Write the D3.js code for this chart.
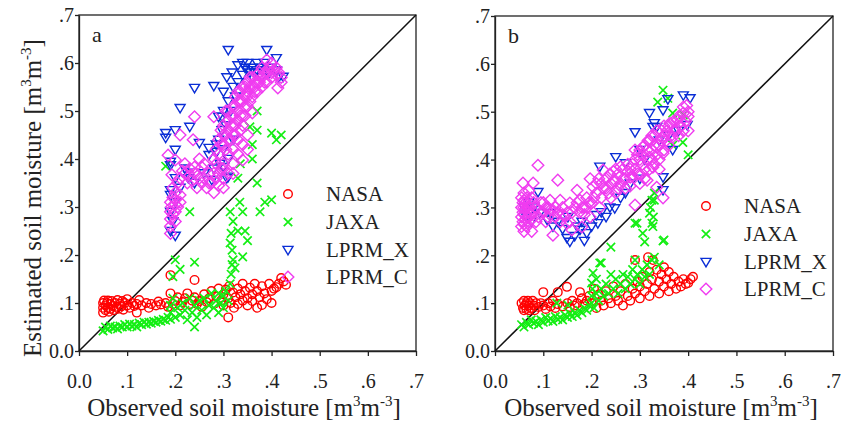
<!DOCTYPE html>
<html>
<head>
<meta charset="utf-8">
<script src="https://cdn.jsdelivr.net/npm/d3@7"></script>
<style>
  body { margin: 0; background: #fff; }
  svg, .tick text { font-family: "Liberation Serif", "Times New Roman", serif; }
  .tick text { font-size: 20px; fill: #222; }
  .domain, .tick line { stroke: #222; }
</style>
</head>
<body>
<svg id="chart" width="841" height="424"></svg>
<script>
// tick values and series names
const tickVals = [0, 0.1, 0.2, 0.3, 0.4, 0.5, 0.6, 0.7];
const seriesNames = ["NASA", "JAXA", "LPRM_X", "LPRM_C"];

// panel a  [observed, estimated]
const nasaA = [[0.05,0.10],[0.05,0.09],[0.05,0.08],[0.052,0.105],[0.055,0.095],[0.055,0.085],[0.058,0.10],[0.06,0.09],[0.06,0.105],[0.062,0.082],[0.065,0.098],[0.065,0.088],[0.068,0.104],[0.07,0.094],[0.072,0.085],[0.075,0.10],[0.078,0.092],[0.08,0.106],[0.082,0.088],[0.085,0.098],[0.088,0.093],[0.09,0.104],[0.092,0.086],[0.095,0.10],[0.10,0.095],[0.10,0.108],[0.105,0.09],[0.11,0.10],[0.115,0.094],[0.12,0.098],[0.12,0.08],[0.125,0.106],[0.13,0.095],[0.14,0.10],[0.145,0.09],[0.15,0.098],[0.16,0.095],[0.165,0.103],[0.17,0.097],[0.18,0.10],[0.185,0.092],[0.19,0.12],[0.19,0.158],[0.195,0.098],[0.20,0.104],[0.205,0.112],[0.21,0.095],[0.215,0.102],[0.22,0.11],[0.225,0.12],[0.23,0.098],[0.235,0.105],[0.24,0.148],[0.24,0.112],[0.245,0.098],[0.25,0.104],[0.255,0.092],[0.26,0.118],[0.265,0.102],[0.27,0.11],[0.275,0.125],[0.28,0.098],[0.285,0.114],[0.29,0.13],[0.295,0.105],[0.30,0.118],[0.30,0.095],[0.305,0.128],[0.31,0.07],[0.31,0.11],[0.312,0.135],[0.315,0.10],[0.32,0.122],[0.322,0.09],[0.325,0.112],[0.33,0.13],[0.33,0.098],[0.335,0.118],[0.34,0.105],[0.34,0.14],[0.345,0.125],[0.35,0.11],[0.35,0.095],[0.355,0.132],[0.36,0.118],[0.36,0.104],[0.365,0.14],[0.37,0.125],[0.37,0.09],[0.375,0.112],[0.38,0.096],[0.38,0.135],[0.385,0.12],[0.39,0.108],[0.395,0.14],[0.40,0.10],[0.40,0.125],[0.405,0.13],[0.41,0.133],[0.415,0.14],[0.42,0.152],[0.425,0.145],[0.43,0.138]];

const jaxaA = [[0.05,0.042],[0.055,0.05],[0.06,0.045],[0.065,0.052],[0.07,0.048],[0.075,0.05],[0.08,0.046],[0.085,0.052],[0.09,0.05],[0.095,0.055],[0.10,0.05],[0.105,0.056],[0.11,0.052],[0.115,0.055],[0.12,0.05],[0.125,0.058],[0.13,0.055],[0.135,0.06],[0.14,0.056],[0.145,0.06],[0.15,0.058],[0.155,0.062],[0.16,0.06],[0.165,0.064],[0.17,0.062],[0.175,0.066],[0.18,0.064],[0.185,0.07],[0.19,0.066],[0.19,0.08],[0.19,0.095],[0.195,0.11],[0.195,0.155],[0.2,0.19],[0.2,0.07],[0.205,0.09],[0.21,0.17],[0.21,0.075],[0.215,0.1],[0.22,0.085],[0.225,0.065],[0.23,0.11],[0.23,0.29],[0.235,0.08],[0.24,0.185],[0.24,0.05],[0.24,0.095],[0.245,0.07],[0.25,0.105],[0.255,0.085],[0.26,0.11],[0.265,0.075],[0.27,0.095],[0.275,0.12],[0.28,0.09],[0.285,0.105],[0.29,0.08],[0.29,0.12],[0.295,0.1],[0.3,0.115],[0.3,0.09],[0.305,0.125],[0.31,0.105],[0.18,0.385],[0.314,0.14],[0.316,0.16],[0.318,0.18],[0.32,0.19],[0.318,0.21],[0.314,0.225],[0.316,0.245],[0.32,0.27],[0.314,0.29],[0.324,0.173],[0.33,0.25],[0.334,0.31],[0.33,0.36],[0.34,0.196],[0.34,0.29],[0.345,0.25],[0.35,0.23],[0.37,0.35],[0.376,0.29],[0.386,0.31],[0.40,0.315],[0.335,0.39],[0.355,0.467],[0.37,0.46],[0.37,0.50],[0.36,0.40],[0.40,0.454],[0.41,0.44],[0.42,0.45],[0.36,0.43]];

const lprmXA = [[0.31,0.627],[0.39,0.627],[0.41,0.61],[0.37,0.60],[0.34,0.60],[0.33,0.595],[0.35,0.585],[0.355,0.58],[0.365,0.58],[0.376,0.59],[0.318,0.58],[0.307,0.57],[0.30,0.54],[0.33,0.56],[0.28,0.552],[0.24,0.548],[0.21,0.506],[0.297,0.488],[0.23,0.467],[0.20,0.46],[0.18,0.454],[0.18,0.444],[0.25,0.433],[0.20,0.419],[0.27,0.423],[0.297,0.46],[0.29,0.488],[0.31,0.363],[0.30,0.383],[0.225,0.371],[0.19,0.394],[0.424,0.571],[0.286,0.415],[0.19,0.325],[0.293,0.39],[0.19,0.387],[0.19,0.335],[0.19,0.29],[0.19,0.25],[0.22,0.38],[0.227,0.36],[0.27,0.408],[0.307,0.36],[0.276,0.356],[0.34,0.575],[0.345,0.59],[0.35,0.60],[0.36,0.59],[0.36,0.57],[0.37,0.585],[0.38,0.57],[0.385,0.60],[0.395,0.58],[0.40,0.59],[0.41,0.585],[0.415,0.57],[0.32,0.55],[0.325,0.53],[0.31,0.52],[0.315,0.50],[0.30,0.50],[0.305,0.47],[0.29,0.44],[0.285,0.43],[0.30,0.42],[0.32,0.44],[0.31,0.40],[0.28,0.38],[0.26,0.37],[0.24,0.35],[0.21,0.34],[0.2,0.36],[0.2,0.31],[0.195,0.27],[0.2,0.24]];

const lprmCA = [[0.19,0.245],[0.19,0.26],[0.19,0.275],[0.19,0.29],[0.192,0.30],[0.19,0.31],[0.195,0.32],[0.2,0.33],[0.195,0.34],[0.2,0.29],[0.205,0.30],[0.2,0.315],[0.21,0.31],[0.185,0.408],[0.20,0.398],[0.21,0.45],[0.237,0.44],[0.24,0.488],[0.28,0.488],[0.193,0.367],[0.24,0.383],[0.255,0.383],[0.21,0.36],[0.22,0.37],[0.225,0.35],[0.23,0.38],[0.235,0.355],[0.24,0.37],[0.245,0.34],[0.25,0.36],[0.255,0.35],[0.26,0.39],[0.265,0.34],[0.27,0.37],[0.275,0.35],[0.28,0.33],[0.285,0.36],[0.29,0.345],[0.295,0.38],[0.30,0.34],[0.25,0.40],[0.22,0.39],[0.3,0.36],[0.31,0.37],[0.32,0.39],[0.33,0.41],[0.34,0.398],[0.28,0.40],[0.285,0.42],[0.29,0.44],[0.295,0.46],[0.30,0.43],[0.30,0.47],[0.305,0.45],[0.305,0.50],[0.31,0.41],[0.31,0.46],[0.31,0.48],[0.315,0.44],[0.315,0.49],[0.32,0.42],[0.32,0.47],[0.32,0.51],[0.325,0.45],[0.325,0.53],[0.33,0.48],[0.33,0.50],[0.33,0.54],[0.335,0.46],[0.335,0.52],[0.34,0.43],[0.34,0.49],[0.34,0.55],[0.345,0.51],[0.345,0.53],[0.35,0.45],[0.35,0.54],[0.35,0.56],[0.355,0.52],[0.355,0.55],[0.36,0.496],[0.36,0.53],[0.36,0.57],[0.365,0.55],[0.365,0.56],[0.37,0.54],[0.37,0.575],[0.375,0.56],[0.38,0.55],[0.38,0.57],[0.385,0.58],[0.39,0.56],[0.39,0.606],[0.395,0.59],[0.40,0.58],[0.40,0.60],[0.405,0.585],[0.41,0.575],[0.413,0.548],[0.42,0.56],[0.42,0.57],[0.30,0.39],[0.32,0.37],[0.35,0.42],[0.285,0.39],[0.29,0.41],[0.295,0.43],[0.30,0.45],[0.305,0.42],[0.31,0.44],[0.31,0.50],[0.315,0.47],[0.32,0.45],[0.32,0.49],[0.325,0.47],[0.325,0.51],[0.33,0.44],[0.33,0.52],[0.335,0.49],[0.335,0.54],[0.34,0.47],[0.34,0.52],[0.345,0.49],[0.345,0.55],[0.35,0.51],[0.35,0.53],[0.355,0.57],[0.36,0.55],[0.365,0.54],[0.37,0.56],[0.375,0.58],[0.38,0.59],[0.385,0.56],[0.39,0.58],[0.40,0.57],[0.41,0.59],[0.415,0.58],[0.2,0.27],[0.195,0.285],[0.2,0.305],[0.21,0.325],[0.205,0.35],[0.215,0.375],[0.23,0.365],[0.26,0.36],[0.27,0.35],[0.28,0.37],[0.29,0.37],[0.3,0.38]];

// panel b
const nasaB = [[0.055,0.10],[0.058,0.09],[0.06,0.105],[0.06,0.085],[0.062,0.095],[0.065,0.10],[0.065,0.088],[0.068,0.105],[0.07,0.095],[0.07,0.085],[0.072,0.10],[0.075,0.09],[0.078,0.105],[0.08,0.095],[0.082,0.085],[0.085,0.10],[0.09,0.092],[0.095,0.10],[0.10,0.123],[0.10,0.095],[0.105,0.088],[0.11,0.10],[0.115,0.093],[0.12,0.105],[0.125,0.09],[0.13,0.123],[0.13,0.098],[0.14,0.093],[0.149,0.134],[0.15,0.10],[0.155,0.092],[0.16,0.105],[0.165,0.095],[0.17,0.10],[0.176,0.123],[0.18,0.11],[0.185,0.098],[0.19,0.105],[0.195,0.115],[0.20,0.10],[0.205,0.13],[0.21,0.09],[0.215,0.118],[0.22,0.105],[0.225,0.095],[0.23,0.125],[0.235,0.11],[0.24,0.10],[0.245,0.135],[0.25,0.115],[0.255,0.105],[0.26,0.125],[0.265,0.095],[0.27,0.14],[0.275,0.115],[0.28,0.105],[0.285,0.13],[0.29,0.19],[0.29,0.12],[0.295,0.145],[0.30,0.11],[0.30,0.135],[0.305,0.155],[0.31,0.125],[0.315,0.14],[0.317,0.196],[0.32,0.115],[0.32,0.165],[0.325,0.15],[0.327,0.19],[0.33,0.13],[0.335,0.17],[0.34,0.145],[0.34,0.12],[0.345,0.16],[0.35,0.135],[0.35,0.175],[0.355,0.15],[0.36,0.125],[0.36,0.165],[0.365,0.14],[0.37,0.155],[0.375,0.13],[0.38,0.145],[0.385,0.135],[0.39,0.15],[0.395,0.14],[0.40,0.142],[0.405,0.15],[0.41,0.155]];

const jaxaB = [[0.055,0.055],[0.06,0.05],[0.065,0.06],[0.07,0.055],[0.075,0.065],[0.08,0.058],[0.085,0.062],[0.09,0.055],[0.095,0.065],[0.10,0.06],[0.105,0.07],[0.11,0.063],[0.115,0.068],[0.12,0.062],[0.125,0.072],[0.13,0.066],[0.135,0.07],[0.14,0.065],[0.145,0.075],[0.15,0.07],[0.155,0.078],[0.16,0.072],[0.165,0.08],[0.17,0.075],[0.175,0.085],[0.18,0.08],[0.185,0.09],[0.19,0.085],[0.195,0.095],[0.2,0.10],[0.2,0.115],[0.202,0.13],[0.2,0.142],[0.203,0.163],[0.205,0.09],[0.21,0.12],[0.21,0.15],[0.217,0.184],[0.215,0.105],[0.22,0.13],[0.225,0.115],[0.128,0.10],[0.151,0.096],[0.23,0.14],[0.235,0.12],[0.24,0.16],[0.245,0.13],[0.25,0.15],[0.255,0.12],[0.26,0.14],[0.265,0.16],[0.27,0.13],[0.275,0.155],[0.28,0.14],[0.285,0.17],[0.29,0.15],[0.29,0.19],[0.295,0.16],[0.30,0.14],[0.305,0.17],[0.31,0.155],[0.315,0.18],[0.32,0.16],[0.325,0.19],[0.33,0.196],[0.34,0.18],[0.24,0.217],[0.22,0.184],[0.29,0.267],[0.294,0.267],[0.306,0.246],[0.31,0.228],[0.32,0.288],[0.325,0.267],[0.325,0.315],[0.33,0.315],[0.327,0.26],[0.322,0.30],[0.328,0.28],[0.33,0.33],[0.348,0.23],[0.35,0.232],[0.348,0.545],[0.337,0.52],[0.358,0.528],[0.368,0.497],[0.389,0.436],[0.40,0.41],[0.368,0.43],[0.39,0.493]];

const lprmXB = [[0.06,0.30],[0.065,0.28],[0.07,0.31],[0.072,0.29],[0.075,0.27],[0.08,0.30],[0.089,0.332],[0.093,0.288],[0.108,0.274],[0.114,0.288],[0.12,0.26],[0.13,0.27],[0.14,0.255],[0.149,0.236],[0.151,0.28],[0.155,0.228],[0.165,0.24],[0.176,0.253],[0.18,0.27],[0.19,0.246],[0.2,0.26],[0.21,0.284],[0.213,0.267],[0.22,0.29],[0.23,0.28],[0.238,0.30],[0.248,0.298],[0.26,0.32],[0.27,0.33],[0.217,0.385],[0.25,0.405],[0.27,0.392],[0.29,0.457],[0.32,0.497],[0.348,0.503],[0.358,0.526],[0.39,0.534],[0.404,0.528],[0.368,0.42],[0.348,0.363],[0.33,0.476],[0.335,0.468],[0.327,0.468],[0.398,0.472],[0.348,0.336],[0.30,0.36],[0.31,0.40],[0.28,0.35],[0.34,0.44],[0.36,0.45],[0.38,0.46],[0.30,0.42],[0.17,0.26],[0.185,0.23]];

const lprmCB = [[0.055,0.26],[0.055,0.28],[0.055,0.30],[0.055,0.32],[0.058,0.27],[0.058,0.29],[0.058,0.31],[0.058,0.351],[0.06,0.25],[0.06,0.265],[0.06,0.285],[0.06,0.30],[0.06,0.315],[0.06,0.33],[0.063,0.275],[0.063,0.295],[0.063,0.31],[0.066,0.26],[0.066,0.28],[0.066,0.30],[0.066,0.32],[0.07,0.27],[0.07,0.29],[0.07,0.31],[0.07,0.335],[0.073,0.285],[0.073,0.30],[0.076,0.25],[0.076,0.275],[0.076,0.32],[0.079,0.351],[0.08,0.29],[0.08,0.31],[0.085,0.27],[0.085,0.30],[0.089,0.388],[0.09,0.28],[0.095,0.31],[0.10,0.29],[0.105,0.27],[0.11,0.30],[0.114,0.315],[0.12,0.294],[0.12,0.242],[0.125,0.28],[0.13,0.357],[0.135,0.315],[0.14,0.30],[0.145,0.28],[0.149,0.267],[0.155,0.309],[0.159,0.253],[0.16,0.29],[0.17,0.336],[0.176,0.315],[0.18,0.259],[0.185,0.30],[0.19,0.32],[0.197,0.28],[0.197,0.36],[0.2,0.309],[0.203,0.343],[0.21,0.33],[0.217,0.30],[0.22,0.35],[0.224,0.378],[0.23,0.34],[0.238,0.37],[0.24,0.32],[0.245,0.355],[0.25,0.38],[0.255,0.34],[0.26,0.385],[0.265,0.36],[0.27,0.34],[0.275,0.375],[0.28,0.363],[0.285,0.39],[0.29,0.42],[0.29,0.305],[0.295,0.37],[0.30,0.40],[0.30,0.35],[0.306,0.426],[0.31,0.38],[0.315,0.357],[0.317,0.44],[0.32,0.405],[0.325,0.42],[0.327,0.384],[0.33,0.45],[0.335,0.342],[0.335,0.426],[0.34,0.40],[0.345,0.44],[0.346,0.445],[0.348,0.413],[0.348,0.32],[0.35,0.47],[0.356,0.46],[0.36,0.43],[0.362,0.476],[0.368,0.447],[0.37,0.46],[0.377,0.482],[0.38,0.45],[0.385,0.47],[0.39,0.497],[0.395,0.48],[0.397,0.513],[0.40,0.46],[0.40,0.49],[0.40,0.50],[0.205,0.32],[0.21,0.35],[0.215,0.36],[0.22,0.32],[0.225,0.34],[0.23,0.36],[0.235,0.33],[0.24,0.35],[0.245,0.375],[0.25,0.33],[0.25,0.355],[0.255,0.37],[0.26,0.35],[0.265,0.38],[0.27,0.36],[0.275,0.39],[0.28,0.345],[0.28,0.38],[0.285,0.365],[0.29,0.40],[0.29,0.38],[0.295,0.41],[0.30,0.37],[0.30,0.42],[0.305,0.39],[0.305,0.41],[0.31,0.36],[0.31,0.43],[0.315,0.40],[0.315,0.42],[0.32,0.38],[0.32,0.44],[0.325,0.40],[0.325,0.45],[0.33,0.39],[0.33,0.43],[0.335,0.41],[0.335,0.46],[0.34,0.38],[0.34,0.43],[0.345,0.46],[0.35,0.42],[0.35,0.45],[0.355,0.44],[0.36,0.47],[0.365,0.45],[0.37,0.48],[0.375,0.46],[0.38,0.49],[0.385,0.48],[0.39,0.46],[0.39,0.51],[0.095,0.29],[0.1,0.31],[0.105,0.30],[0.11,0.28],[0.115,0.295],[0.125,0.30],[0.13,0.29],[0.135,0.27],[0.14,0.285],[0.15,0.29],[0.155,0.27],[0.165,0.30],[0.17,0.31],[0.175,0.29],[0.18,0.30],[0.185,0.285],[0.19,0.30],[0.195,0.31]];

const colors = ["#ff0000", "#14ee14", "#0a2ed6", "#f03cf0"];

const svg = d3.select("#chart");
const fmt = d => d === 0 ? "0.0" : d3.format(".1f")(d).replace(/^0/, "");

// marker shapes
function shape(kind) {
  if (kind === 0) return "M4.3,0A4.3,4.3 0 1,1 -4.3,0A4.3,4.3 0 1,1 4.3,0Z";
  if (kind === 1) return "M-4.2,-4.2L4.2,4.2M-4.2,4.2L4.2,-4.2";
  if (kind === 2) return "M-5,-3.6L5,-3.6L0,4.8Z";
  return "M0,-5.8L5.8,0L0,5.8L-5.8,0Z";
}

function panel(opt) {
  const x = d3.scaleLinear().domain([0, 0.7]).range([opt.x0, opt.x1]);
  const y = d3.scaleLinear().domain([0, 0.7]).range([351, opt.y1]);
  const g = svg.append("g");

  g.append("rect")
    .attr("x", opt.x0).attr("y", opt.y1)
    .attr("width", opt.x1 - opt.x0).attr("height", 351 - opt.y1)
    .attr("fill", "none").attr("stroke", "#222").attr("stroke-width", 1.3);

  g.append("g")
    .attr("transform", "translate(0,351)")
    .call(d3.axisBottom(x).tickValues(tickVals).tickFormat(fmt).tickSizeInner(5).tickSizeOuter(0).tickPadding(18))
    .call(s => s.selectAll(".domain, line").attr("stroke-width", 1.3));

  g.append("g")
    .attr("transform", "translate(" + opt.x0 + ",0)")
    .call(d3.axisLeft(y).tickValues(tickVals).tickFormat(fmt).tickSizeInner(4).tickSizeOuter(0).tickPadding(1))
    .call(s => s.selectAll(".domain, line").attr("stroke-width", 1.3))
    .call(s => s.selectAll("text").attr("dy", "0.34em"));

  // 1:1 line
  g.append("line")
    .attr("x1", x(0)).attr("y1", y(0))
    .attr("x2", x(0.7)).attr("y2", y(0.7))
    .attr("stroke", "#111").attr("stroke-width", 1.5);

  opt.series.forEach((data, k) => {
    g.append("g").selectAll("path")
      .data(data)
      .enter()
      .append("path")
      .attr("transform", d => "translate(" + x(d[0]) + "," + y(d[1]) + ")")
      .attr("d", shape(k))
      .attr("fill", "none")
      .attr("stroke", colors[k])
      .attr("stroke-width", k === 1 ? 1.7 : 1.4);
  });

  g.append("text")
    .attr("x", opt.x0 + 13).attr("y", opt.y1 + 27)
    .style("font-size", "22px")
    .attr("fill", "#222")
    .text(opt.label);

  // legend
  seriesNames.forEach((name, k) => {
    const ly = opt.legY[k];
    g.append("path")
      .attr("transform", "translate(" + opt.legX + "," + ly + ")")
      .attr("d", shape(k))
      .attr("fill", "none")
      .attr("stroke", colors[k])
      .attr("stroke-width", k === 1 ? 1.7 : 1.4);
    g.append("text")
      .attr("x", opt.legX + 38).attr("y", ly + 7)
      .style("font-size", "21px")
      .attr("fill", "#222")
      .text(name);
  });

  // x title
  const t = g.append("text")
    .attr("x", opt.titleX).attr("y", 416)
    .attr("text-anchor", "middle")
    .style("font-size", "25px")
    .attr("fill", "#222");
  t.append("tspan").text("Observed soil moisture [m");
  t.append("tspan").attr("dy", -10).style("font-size", "15px").text("3");
  t.append("tspan").attr("dy", 10).text("m");
  t.append("tspan").attr("dy", -10).style("font-size", "15px").text("-3");
  t.append("tspan").attr("dy", 10).text("]");
}

panel({ x0: 79, x1: 416, y1: 15, label: "a", titleX: 244,
  series: [nasaA, jaxaA, lprmXA, lprmCA],
  legX: 288, legY: [194, 222, 250, 277] });

panel({ x0: 495, x1: 833, y1: 16, label: "b", titleX: 661,
  series: [nasaB, jaxaB, lprmXB, lprmCB],
  legX: 706, legY: [206, 234, 262, 289] });

// y title
const yt = svg.append("text")
  .attr("transform", "translate(41,198) rotate(-90)")
  .attr("text-anchor", "middle")
  .style("font-size", "25px")
  .attr("fill", "#222");
yt.append("tspan").text("Estimated soil moisture [m");
yt.append("tspan").attr("dy", -10).style("font-size", "15px").text("3");
yt.append("tspan").attr("dy", 10).text("m");
yt.append("tspan").attr("dy", -10).style("font-size", "15px").text("-3");
yt.append("tspan").attr("dy", 10).text("]");
</script>
</body>
</html>
